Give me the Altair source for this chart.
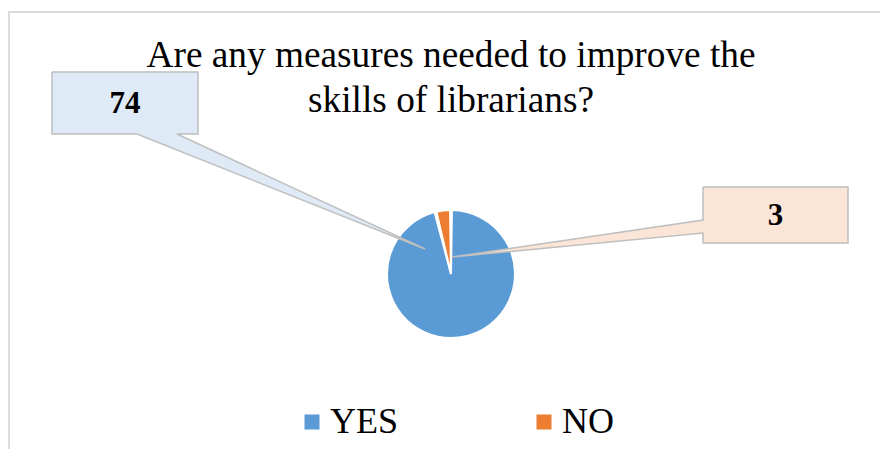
import altair as alt
import pandas as pd

# ---- data ----
categories = ["YES", "NO"]
counts = [74, 3]
colors = ["#5B9BD5", "#ED7D31"]
callout_fills = ["#DEEBF7", "#FBE5D6"]
title_lines = ["Are any measures needed to improve the", "skills of librarians?"]

W, H = 880, 449
SERIF = "Liberation Serif"

pie_df = pd.DataFrame({"answer": categories, "count": counts, "order": [0, 1]})

# callout layout (pixel geometry of annotation boxes, not data)
CX, CY, R = 451, 274, 64
callout_geom = {
    "YES": dict(box=(52, 198, 72, 134), base=("bottom", 177, 137), tip=(425, 249)),
    "NO": dict(box=(703, 848, 187, 243), base=("left", 220, 233), tip=(452, 257)),
}


def callout_polygon(g):
    x0, x1, y0, y1 = g["box"]
    side, b0, b1 = g["base"]
    tx, ty = g["tip"]
    if side == "bottom":
        pts = [(x0, y0), (x1, y0), (x1, y1), (b0, y1), (tx, ty), (b1, y1), (x0, y1), (x0, y0)]
    else:  # left
        pts = [(x0, y0), (x1, y0), (x1, y1), (x0, y1), (x0, b1), (tx, ty), (x0, b0), (x0, y0)]
    return pts


xs = alt.Scale(domain=[0, W], range=[0, W])
ys = alt.Scale(domain=[0, H], range=[0, H])

layers = []

# outer frame
frame = alt.Chart(pie_df).mark_rect(fill=None, stroke="#D9D9D9", strokeWidth=1.5).encode(
    x=alt.value(9), x2=alt.value(W + 5), y=alt.value(12), y2=alt.value(H + 5)
)
layers.append(frame)

# pie
pie = alt.Chart(pie_df).mark_arc(radius=R, stroke="white", strokeWidth=2, padAngle=0.03).encode(
    theta=alt.Theta("count:Q", stack=True),
    order=alt.Order("order:Q"),
    color=alt.Color(
        "answer:N",
        scale=alt.Scale(domain=categories, range=colors),
        sort=categories,
        legend=alt.Legend(
            title=None,
            orient="none",
            direction="horizontal",
            legendX=294,
            legendY=404,
            symbolType="square",
            symbolSize=225,
            symbolStrokeWidth=0,
            labelFont=SERIF,
            labelFontSize=36,
            labelColor="black",
            labelOffset=0,
            columnPadding=127,
        ),
    ),
    x=alt.value(CX),
    y=alt.value(CY),
)
layers.append(pie)

# callouts (drawn over the pie, like the leader lines in the original)
for cat, fill in zip(categories, callout_fills):
    pts = callout_polygon(callout_geom[cat])
    poly_df = pd.DataFrame({"px": [p[0] for p in pts], "py": [p[1] for p in pts], "i": range(len(pts))})
    poly = alt.Chart(poly_df).mark_line(fill=fill, stroke="#BFBFBF", strokeWidth=1.5, interpolate="linear").encode(
        x=alt.X("px:Q", scale=xs, axis=None),
        y=alt.Y("py:Q", scale=ys, axis=None),
        order=alt.Order("i:Q"),
    )
    layers.append(poly)

for cat in categories:
    x0, x1, y0, y1 = callout_geom[cat]["box"]
    lbl = alt.Chart(pie_df).transform_filter(alt.datum.answer == cat).mark_text(
        font=SERIF, fontSize=31, fontWeight="bold", color="black", align="center", baseline="middle"
    ).encode(text="count:Q", x=alt.value((x0 + x1) / 2), y=alt.value((y0 + y1) / 2 + 1))
    layers.append(lbl)

title = alt.Chart(pie_df).transform_filter(alt.datum.order == 0).mark_text(
    font=SERIF, fontSize=37.3, color="black", align="center", baseline="alphabetic", lineHeight=45
).encode(text=alt.value(title_lines), x=alt.value(451), y=alt.value(67))
layers.append(title)

chart = alt.layer(*layers).resolve_scale(color="independent").properties(
    width=W, height=H, autosize=alt.AutoSizeParams(type="none"), padding=0
).configure_view(stroke=None)

chart.save("out.html", embed_options={"renderer": "svg", "actions": False})
